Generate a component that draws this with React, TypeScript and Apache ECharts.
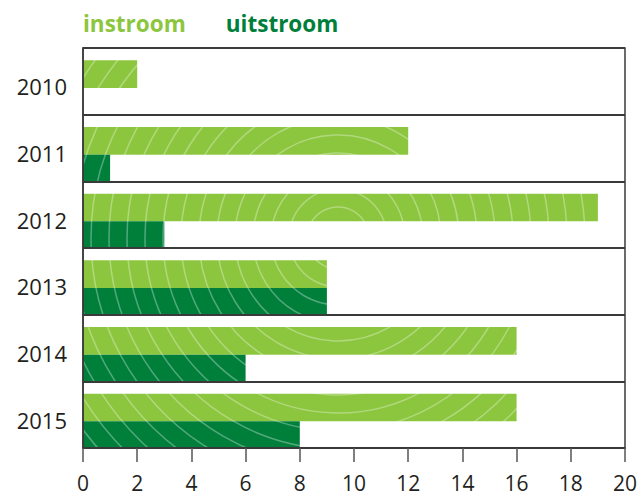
import React, { useEffect, useRef } from "react";
import * as echarts from "echarts";

const years = ["2010", "2011", "2012", "2013", "2014", "2015"];
const instroom = [2, 12, 19, 9, 16, 16];
const uitstroom = [0, 1, 3, 9, 6, 8];
const spacer = [0, 0, 0, 0, 0, 0];

const LIGHT = "#8cc63f";
const DARK = "#007f3b";
const FONT = "'Open Sans', 'Noto Sans', sans-serif";

export default function App() {
  const ref = useRef<HTMLDivElement>(null);
  useEffect(() => {
    document.body.style.margin = "0";
    if (!ref.current) return;
    const chart = echarts.init(ref.current, undefined, { renderer: "svg" });
    const rings: any[] = [];
    for (let k = 0; k < 22; k++) {
      rings.push({
        type: "circle",
        z: 3,
        silent: true,
        shape: { cx: 338, cy: 238, r: 13 + 18 * k },
        style: { fill: "none", stroke: "rgba(255,255,255,0.32)", lineWidth: 1.5 },
      });
    }
    chart.setOption({
      animation: false,
      textStyle: { fontFamily: FONT },
      grid: {
        left: 83,
        right: 13,
        top: 48,
        bottom: 47,
        show: true,
        borderColor: "#3a3a3a",
        borderWidth: 1.5,
        z: 10,
      },
      legend: {
        left: 73,
        top: 7,
        itemWidth: 0,
        itemHeight: 0,
        itemGap: 35,
        icon: "none",
        selectedMode: false,
        z: 10,
        data: [
          { name: "instroom", textStyle: { color: LIGHT } },
          { name: "uitstroom", textStyle: { color: DARK } },
        ],
        textStyle: { fontSize: 22.5, fontWeight: "bold", fontFamily: FONT },
      },
      xAxis: {
        type: "value",
        min: 0,
        max: 20,
        interval: 2,
        z: 10,
        splitLine: { show: false },
        axisLine: { show: true, lineStyle: { color: "#3a3a3a", width: 1.5 } },
        axisTick: { show: true, length: 14, lineStyle: { color: "#555", width: 1.5 } },
        axisLabel: { fontSize: 21, color: "#231f20", margin: 24, fontFamily: FONT },
      },
      yAxis: {
        type: "category",
        data: years,
        inverse: true,
        z: 10,
        axisTick: { show: false },
        axisLine: { show: true, lineStyle: { color: "#3a3a3a", width: 1.5 } },
        splitLine: { show: true, lineStyle: { color: "#3a3a3a", width: 2 } },
        axisLabel: {
          fontSize: 22,
          color: "#231f20",
          margin: 16,
          verticalAlign: "top",
          lineHeight: 10,
          fontFamily: FONT,
        },
      },
      graphic: { elements: rings },
      series: [
        {
          name: "spacer",
          type: "bar",
          data: spacer,
          barWidth: "18.5%",
          barGap: "0%",
          silent: true,
          itemStyle: { color: "transparent" },
        },
        {
          name: "instroom",
          type: "bar",
          data: instroom,
          barWidth: "41.5%",
          barGap: "0%",
          itemStyle: { color: LIGHT },
        },
        {
          name: "uitstroom",
          type: "bar",
          data: uitstroom,
          barWidth: "40%",
          barGap: "0%",
          itemStyle: { color: DARK },
        },
      ],
    });
    return () => chart.dispose();
  }, []);
  return <div ref={ref} style={{ width: 640, height: 495 }} />;
}
